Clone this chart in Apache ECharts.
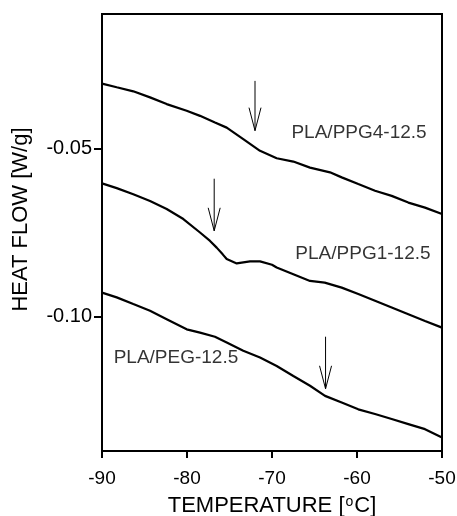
<!DOCTYPE html>
<html>
<head>
<meta charset="utf-8">
<script src="https://cdn.jsdelivr.net/npm/echarts@6/dist/echarts.min.js"></script>
<style>
html,body{margin:0;padding:0;background:#fff;}
#chart{width:457px;height:516px;}
</style>
</head>
<body>
<div id="chart"></div>
<script>
// Curve: PLA/PPG4-12.5
const ppg4T = [-90, -88.27, -86.32, -84.35, -82.39, -80.04, -78.47, -76.71, -75.33, -73.38, -71.41, -69.45, -67.49, -65.53, -63.18, -61.80, -59.85, -57.88, -55.92, -53.96, -52.0, -50];
const ppg4V = [-0.0307, -0.0318, -0.0330, -0.0348, -0.0368, -0.0388, -0.0403, -0.0423, -0.0438, -0.0472, -0.0507, -0.0529, -0.0539, -0.0557, -0.0571, -0.0586, -0.0606, -0.0626, -0.0641, -0.0661, -0.0676, -0.0695];
// Curve: PLA/PPG1-12.5
const ppg1T = [-90, -88.27, -86.32, -84.35, -82.39, -80.43, -78.47, -77.29, -76.51, -75.80, -75.33, -74.15, -72.59, -71.41, -70.0, -69.45, -67.49, -65.53, -63.80, -61.80, -59.85, -57.88, -55.92, -53.96, -52.0, -50];
const ppg1V = [-0.0604, -0.0618, -0.0636, -0.0656, -0.0680, -0.0710, -0.0750, -0.0775, -0.0795, -0.0815, -0.0829, -0.0842, -0.0836, -0.0836, -0.0846, -0.0854, -0.0874, -0.0894, -0.0899, -0.0914, -0.0933, -0.0953, -0.0973, -0.0993, -0.1013, -0.1033];
// Curve: PLA/PEG-12.5
const pegT = [-90, -88.27, -86.32, -84.35, -82.39, -80.04, -78.47, -76.71, -75.33, -73.38, -71.41, -69.45, -67.49, -65.53, -63.76, -61.80, -59.85, -57.88, -55.92, -53.96, -52.0, -50];
const pegV = [-0.0929, -0.0943, -0.0963, -0.0983, -0.1008, -0.1038, -0.1048, -0.1060, -0.1077, -0.1102, -0.1122, -0.1147, -0.1177, -0.1206, -0.1236, -0.1256, -0.1276, -0.1290, -0.1305, -0.1320, -0.1335, -0.1360];

// Curve labels
const labelNames = ['PLA/PPG4-12.5', 'PLA/PPG1-12.5', 'PLA/PEG-12.5'];
const labelT = [-59.76, -59.3, -81.3];
const labelV = [-0.0452, -0.0813, -0.1124];

// Arrows (temperature, top value, tip value)
const arrowT = [-72.0, -76.8, -63.7];
const arrowTop = [-0.0299, -0.0590, -0.1060];
const arrowTip = [-0.0447, -0.0745, -0.1215];

// Axis ticks
const xTicks = [-90, -80, -70, -60, -50];
const yTicks = [-0.05, -0.10];

const FONT = '"Liberation Sans", Arial, sans-serif';
const zip = (a, b) => a.map((v, i) => [v, b[i]]);

const chart = echarts.init(document.getElementById('chart'), null, {renderer: 'canvas'});

const lineSeries = (T, V) => ({
  type: 'line',
  data: zip(T, V),
  showSymbol: false,
  symbol: 'none',
  lineStyle: {color: '#000', width: 2.2},
  silent: true,
  animation: false
});

chart.setOption({
  animation: false,
  backgroundColor: '#fff',
  grid: {left: 102, right: 15, top: 14, bottom: 65, containLabel: false, outerBoundsMode: 'none',
    show: true, borderColor: '#000', borderWidth: 2, backgroundColor: 'transparent'},
  xAxis: {
    type: 'value', min: -90, max: -50, interval: 10,
    axisLine: {show: true, lineStyle: {color: '#000', width: 2}},
    axisTick: {show: true, length: 7, inside: false, lineStyle: {color: '#000', width: 2}, customValues: xTicks},
    axisLabel: {color: '#000', fontFamily: FONT, fontSize: 19, margin: 18, customValues: xTicks},
    splitLine: {show: false},
    name: 'TEMPERATURE [{sup|o}C]',
    nameLocation: 'middle', nameGap: 44,
    nameTextStyle: {color: '#000', fontFamily: FONT, fontSize: 22,
      rich: {sup: {fontSize: 14, fontFamily: FONT, color: '#000', verticalAlign: 'top', padding: [0, 1, 0, 1]}}}
  },
  yAxis: {
    type: 'value', min: -0.14, max: -0.01,
    axisLine: {show: true, lineStyle: {color: '#000', width: 2}},
    axisTick: {show: true, length: 8, inside: false, lineStyle: {color: '#000', width: 2}, customValues: yTicks},
    axisLabel: {color: '#000', fontFamily: FONT, fontSize: 20, margin: 10, customValues: yTicks,
      formatter: v => v.toFixed(2)},
    splitLine: {show: false},
    name: 'HEAT FLOW [W/g]',
    nameLocation: 'middle', nameGap: 70, nameRotate: 90,
    nameTextStyle: {color: '#000', fontFamily: FONT, fontSize: 22, padding: [0, 0, 0, 26]}
  },
  series: [
    lineSeries(ppg4T, ppg4V),
    lineSeries(ppg1T, ppg1V),
    lineSeries(pegT, pegV),
    {
      type: 'scatter',
      data: labelNames.map((n, i) => ({value: [labelT[i], labelV[i]], name: n})),
      symbolSize: 0,
      silent: true,
      label: {show: true, position: 'inside', formatter: p => p.name, color: '#000', fontFamily: FONT, fontSize: 19}
    },
    {
      type: 'custom',
      silent: true,
      data: arrowT.map((t, i) => [t, arrowTop[i], arrowTip[i]]),
      renderItem: (params, api) => {
        const top = api.coord([api.value(0), api.value(1)]);
        const tip = api.coord([api.value(0), api.value(2)]);
        const st = {stroke: '#000', lineWidth: 1, fill: null};
        return {
          type: 'group',
          children: [
            {type: 'line', shape: {x1: top[0], y1: top[1], x2: tip[0], y2: tip[1]}, style: st},
            {type: 'polyline', shape: {points: [[tip[0] - 6, tip[1] - 23], [tip[0], tip[1]], [tip[0] + 6, tip[1] - 23]]}, style: st}
          ]
        };
      }
    }
  ]
});
</script>
</body>
</html>
